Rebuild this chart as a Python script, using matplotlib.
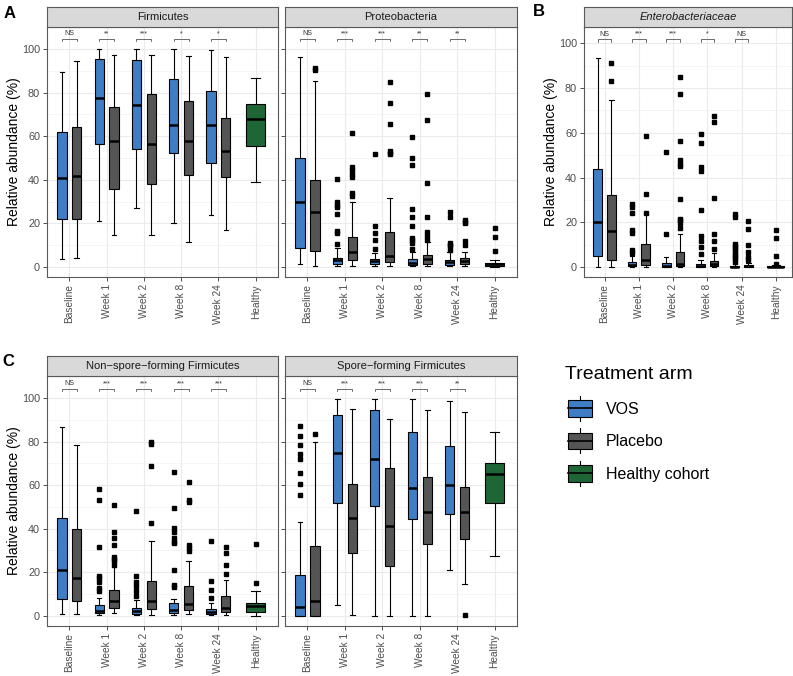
import numpy as np
import matplotlib
matplotlib.use("Agg")
import matplotlib.pyplot as plt
from matplotlib.patches import Patch, Rectangle
from matplotlib.lines import Line2D
from matplotlib.legend_handler import HandlerBase
from matplotlib.ticker import MultipleLocator

plt.rcParams['font.family'] = ['Liberation Sans', 'DejaVu Sans']

timepoints = ['Baseline', 'Week 1', 'Week 2', 'Week 8', 'Week 24', 'Healthy']
arms = ['VOS', 'Placebo', 'Healthy cohort']
arm_colors = ['#3F7DC4', '#555555', '#1F6636']

# box stats: (lower whisker, Q1, median, Q3, upper whisker), Baseline..Week 24
# --- Firmicutes
firm_vos = [(3.8, 22, 41, 62, 89.3), (21.1, 56.3, 77.7, 95.6, 100), (27, 54, 74.4, 95, 100),
            (20.2, 52.1, 65.3, 86.4, 100), (23.7, 47.8, 65.3, 80.9, 99.7)]
firm_pla = [(4.1, 22, 41.9, 64.3, 94.3), (14.7, 35.8, 57.8, 73.5, 97.1), (14.8, 38.2, 56.3, 79.2, 97.1),
            (11.6, 42.3, 57.8, 76.3, 97), (16.9, 41.1, 53.2, 68.3, 96.2)]
firm_hea = (39, 55.7, 68.1, 74.7, 86.7)
firm_vos_out = [[], [], [], [], []]
firm_pla_out = [[], [], [], [], []]
firm_hea_out = []
firm_sig = ['NS', '**', '***', '*', '*']

# --- Proteobacteria
prot_vos = [(1.2, 8.9, 29.6, 49.8, 96.2), (0.3, 1.3, 3.3, 4.3, 8.6), (0.3, 1.2, 2.8, 3.8, 6.3),
            (0.3, 0.9, 2.0, 3.5, 7.0), (0.3, 0.8, 2.1, 3.2, 6.9)]
prot_pla = [(0.5, 7.2, 25.3, 39.8, 85.4), (0.5, 3.1, 7.0, 13.8, 29.7), (0.3, 2.4, 5.0, 16.2, 31.8),
            (0.5, 1.2, 3.5, 5.5, 11.3), (0.3, 1.2, 2.9, 4.0, 6.9)]
prot_hea = (0.2, 0.5, 1.2, 1.8, 3.2)
prot_vos_out = [[], [40.4, 29.8, 28.3, 27.6, 24.1, 16.5, 15.8, 10.4], [51.8, 19, 15.4, 12.4, 8.3],
                [59.5, 49.9, 46.6, 26.5, 22.8, 19, 13.3, 12.3, 11, 8.3], [25.4, 23.1, 11, 10.2, 9.5, 8.0]]
prot_pla_out = [[90.5, 91.3], [61.3, 46, 44.6, 42.7, 41.1, 33.8, 32.7], [84.7, 75.4, 65.6, 53.3, 52.3, 51.8],
                [79.4, 67.4, 38.7, 22.9, 16, 14.2, 12.5], [21.5, 20.7, 20, 11.9, 10.1]]
prot_hea_out = [17.7, 13.9, 7.5]
prot_sig = ['NS', '***', '***', '**', '**']

# --- Enterobacteriaceae
ent_vos = [(0, 4.9, 20.1, 44, 93.3), (0, 0.3, 1.0, 2.5, 5.2), (0, 0.2, 0.7, 1.8, 4.5),
           (0, 0.1, 0.5, 1.5, 3), (0, 0, 0.2, 0.6, 1.4)]
ent_pla = [(0, 3.3, 16, 32.4, 74.6), (0, 1.0, 3.3, 10.4, 23.9), (0, 0.4, 1.5, 6.7, 14.9),
           (0, 0.4, 1.5, 2.8, 6.4), (0, 0, 0.3, 0.8, 2.0)]
ent_hea = (0, 0, 0.1, 0.4, 1.0)
ent_vos_out = [[], [28, 26.9, 24.3, 16.4, 15.2, 7.8, 6.4], [51.5, 15],
               [59.7, 55.5, 44.8, 43, 25.4, 13.7, 11.9, 9, 6],
               [23.9, 22.4, 10.5, 9.5, 8.5, 7.5, 6.5, 5.5, 4.5, 3.5, 2.5]]
ent_pla_out = [[91, 83.1], [58.7, 32.5, 24.3],
               [85, 77.3, 56.3, 47.8, 46.3, 45.2, 30.3, 21.6, 20.9, 19.7, 17.6],
               [67.5, 64.9, 31, 14.9, 11.6, 8.2], [20.6, 17.2, 10, 6.7, 4.5, 3.0]]
ent_hea_out = [16.7, 13, 5.2, 1.5]
ent_sig = ['NS', '***', '***', '*', 'NS']

# --- Non-spore-forming Firmicutes
nsf_vos = [(0.6, 7.6, 20.8, 44.7, 86.6), (0.3, 1.2, 2.2, 4.8, 7.9), (0.3, 0.9, 2.2, 3.4, 7.2),
           (0.3, 1.1, 2.6, 5.7, 7.6), (0.3, 0.8, 1.8, 2.9, 5.7)]
nsf_pla = [(0.6, 6.5, 17.3, 39.9, 78.3), (1.1, 3.4, 6.9, 11.6, 22.3), (0.3, 2.9, 6.8, 16, 34.2),
           (0.9, 2.6, 5.4, 13.4, 25.3), (0.3, 1.8, 3.4, 8.8, 16.2)]
nsf_hea = (0, 1.5, 4.5, 6.0, 11.4)
nsf_vos_out = [[], [58.1, 53.2, 31.4, 18.3, 17.3, 15.3, 12.6, 11.1], [48.1, 18, 15.4, 13.4, 11.1, 8.8],
               [66.1, 49.3, 40.4, 38.4, 35.7, 34, 33.4, 20.8, 14.2, 13.1], [34.2, 16, 11.6, 8.0]]
nsf_pla_out = [[], [50.8, 38.5, 35.7, 32.4, 27, 26, 25, 23.4], [80, 78.9, 68.6, 42.4],
               [61.5, 53.2, 52.4, 32.4, 31, 29.6], [31.4, 28.8, 23.4, 19.3]]
nsf_hea_out = [32.7, 14.9]
nsf_sig = ['NS', '***', '***', '***', '***']

# --- Spore-forming Firmicutes
sf_vos = [(0, 0, 3.9, 18.8, 43), (4.9, 51.9, 74.7, 92.4, 99.7), (0, 50.4, 72, 94.6, 99.4),
          (0, 44.2, 58.9, 84.3, 99.4), (21.1, 46.8, 59.9, 77.8, 98.5)]
sf_pla = [(0, 0, 6.8, 32.2, 79.7), (0.3, 28.8, 45, 60.6, 94.8), (0, 22.7, 41.4, 68.1, 90.4),
          (0, 32.7, 47.6, 63.9, 94.6), (14.5, 35.4, 47.6, 59.2, 93.8)]
sf_hea = (27.3, 51.9, 65, 70.1, 84.6)
sf_vos_out = [[87, 82.4, 78.4, 74.3, 72, 65.5, 60.7, 55.5], [], [], [], []]
sf_pla_out = [[83.5], [], [], [], [0.2]]
sf_hea_out = []
sf_sig = ['NS', '***', '***', '***', '**']


W, H = 793, 676
fig = plt.figure(figsize=(W / 100, H / 100), dpi=100)


def px_axes(x0, y0, x1, y1):
    return fig.add_axes([x0 / W, 1 - y1 / H, (x1 - x0) / W, (y1 - y0) / H])


def to_stats(rows, outs):
    return [dict(whislo=r[0], q1=r[1], med=r[2], q3=r[3], whishi=r[4], fliers=o)
            for r, o in zip(rows, outs)]


def draw_boxes(ax, stats, pos, color, width):
    ax.bxp(stats, positions=pos, widths=width, capwidths=width * 0.5, patch_artist=True,
           boxprops=dict(facecolor=color, edgecolor='black', linewidth=0.8),
           medianprops=dict(color='black', linewidth=1.8),
           whiskerprops=dict(color='black', linewidth=0.8),
           capprops=dict(color='black', linewidth=0.8),
           flierprops=dict(marker='s', markersize=2.5, markerfacecolor='black',
                           markeredgecolor='black', linestyle='none'))


def panel(box, strip_title, vos, vos_out, pla, pla_out, hea, hea_out, sig, ylim, br_y,
          ylabels=True, italic=False):
    x0, y0, x1, y1 = box
    ax = px_axes(x0, y0 + 20, x1, y1)
    st = px_axes(x0, y0, x1, y0 + 20)
    st.set_facecolor('#D9D9D9')
    st.set_xticks([]); st.set_yticks([])
    for s in st.spines.values():
        s.set_color('#595959'); s.set_linewidth(0.8)
    st.text(0.5, 0.5, strip_title, ha='center', va='center', fontsize=8, color='#1A1A1A',
            style='italic' if italic else 'normal', transform=st.transAxes)

    x = np.arange(1, 6)
    draw_boxes(ax, to_stats(vos, vos_out), x - 0.2, arm_colors[0], 0.25)
    draw_boxes(ax, to_stats(pla, pla_out), x + 0.2, arm_colors[1], 0.25)
    draw_boxes(ax, to_stats([hea], [hea_out]), [6], arm_colors[2], 0.5)

    for xi, lab in zip(x, sig):
        ax.plot([xi - 0.2, xi - 0.2, xi + 0.2, xi + 0.2], [br_y - 1, br_y, br_y, br_y - 1],
                color='#333333', lw=0.5)
        ax.text(xi, br_y + 0.8, lab, ha='center', va='bottom', fontsize=5, color='#333333')

    ax.set_xlim(0.4, 6.6)
    ax.set_ylim(*ylim)
    ax.set_xticks(range(1, 7))
    ax.set_xticklabels(timepoints, rotation=90, fontsize=7.3, color='#4D4D4D')
    ax.set_yticks(range(0, 101, 20))
    ax.yaxis.set_minor_locator(MultipleLocator(10))
    ax.tick_params(which='major', length=3, width=0.6, color='#333333', pad=2)
    ax.tick_params(which='minor', length=0)
    if ylabels:
        ax.set_yticklabels([str(v) for v in range(0, 101, 20)], fontsize=7.8, color='#4D4D4D')
        ax.set_ylabel('Relative abundance (%)', fontsize=10, labelpad=1)
    else:
        ax.set_yticklabels([])
    ax.set_axisbelow(True)
    ax.grid(which='major', color='#EBEBEB', lw=0.8)
    ax.grid(which='minor', axis='y', color='#F2F2F2', lw=0.5)
    for s in ax.spines.values():
        s.set_color('#595959'); s.set_linewidth(0.8)
    return ax


panel((47, 7, 278, 277), 'Firmicutes', firm_vos, firm_vos_out, firm_pla, firm_pla_out,
      firm_hea, firm_hea_out, firm_sig, (-4.6, 110.1), 104.6)
panel((285, 7, 517, 277), 'Proteobacteria', prot_vos, prot_vos_out, prot_pla, prot_pla_out,
      prot_hea, prot_hea_out, prot_sig, (-4.6, 110.1), 104.6, ylabels=False)
axb = panel((584, 7, 792, 277), 'Enterobacteriaceae', ent_vos, ent_vos_out, ent_pla, ent_pla_out,
            ent_hea, ent_hea_out, ent_sig, (-4.4, 107.3), 101.8, italic=True)
axb.set_xlim(0.4, 6.47)
panel((47, 356, 278, 626), 'Non\u2212spore\u2212forming Firmicutes', nsf_vos, nsf_vos_out, nsf_pla,
      nsf_pla_out, nsf_hea, nsf_hea_out, nsf_sig, (-4.8, 110.2), 104.3)
panel((285, 356, 517, 626), 'Spore\u2212forming Firmicutes', sf_vos, sf_vos_out, sf_pla, sf_pla_out,
      sf_hea, sf_hea_out, sf_sig, (-4.8, 110.2), 104.3, ylabels=False)

fig.text(4 / W, 1 - 14 / H, 'A', fontsize=12, fontweight='bold', va='center')
fig.text(533 / W, 1 - 12 / H, 'B', fontsize=12, fontweight='bold', va='center')
fig.text(2 / W, 1 - 362 / H, 'C', fontsize=12, fontweight='bold', va='center')


class BoxKey(HandlerBase):
    def create_artists(self, legend, orig_handle, xdescent, ydescent, width, height, fontsize, trans):
        x0, y0 = -xdescent, -ydescent
        fc = orig_handle.get_facecolor()
        xm = x0 + width / 2
        b0, b1 = y0 + 0.165 * height, y0 + 0.835 * height
        lo = Line2D([xm, xm], [y0, b0], color='black', lw=0.8, transform=trans)
        hi = Line2D([xm, xm], [b1, y0 + height], color='black', lw=0.8, transform=trans)
        box = Rectangle((x0, b0), width, b1 - b0, facecolor=fc,
                        edgecolor='black', lw=0.8, transform=trans)
        med = Line2D([x0, x0 + width], [y0 + height / 2] * 2, color='black', lw=1.2, transform=trans)
        return [lo, hi, box, med]


# legend
fig.text(565 / W, 1 - 366 / H, 'Treatment arm', fontsize=14, va='top', ha='left')
handles = [Patch(facecolor=c) for c in arm_colors]
fig.legend(handles, arms, handler_map={Patch: BoxKey()}, loc='upper left',
           bbox_to_anchor=(568 / W, 1 - 396 / H), frameon=False,
           fontsize=11.5, handlelength=1.5, handleheight=2.03,
           labelspacing=0.47, handletextpad=0.85, borderpad=0, borderaxespad=0)

fig.savefig('out.png', dpi=100)
